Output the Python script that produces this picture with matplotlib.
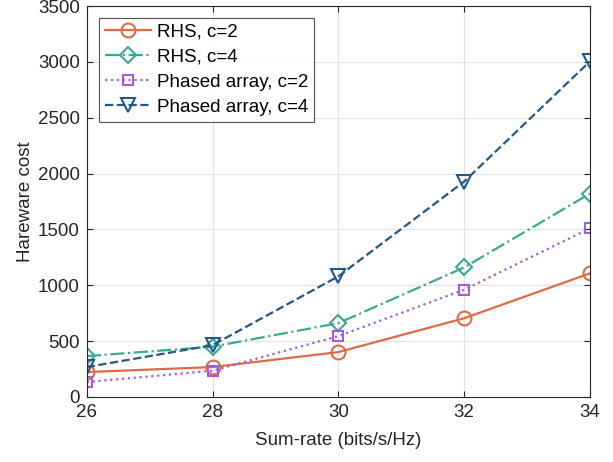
import matplotlib
matplotlib.use("Agg")
import matplotlib.pyplot as plt

plt.rcParams["font.family"] = ["Liberation Sans", "DejaVu Sans"]

rate = [26, 28, 30, 32, 34]
rhs_c2 = [223, 268, 402, 705, 1107]
rhs_c4 = [366, 450, 661, 1160, 1821]
pa_c2 = [134, 235, 545, 960, 1510]
pa_c4 = [268, 464, 1080, 1929, 3005]

series = [
    ("RHS, c=2", rhs_c2, "#DF6A46", "-", "o", 10),
    ("RHS, c=4", rhs_c4, "#3DAA8F", "-.", "D", 8.5),
    ("Phased array, c=2", pa_c2, "#A25DDC", ":", "s", 7.5),
    ("Phased array, c=4", pa_c4, "#235887", "--", "v", 10),
]

fig = plt.figure(figsize=(6.13, 4.62), dpi=100)
ax = fig.add_axes([0.1415, 0.1407, 0.821, 0.8463])

for label, vals, col, ls, mk, ms in series:
    ax.plot(rate, vals, linestyle=ls, color=col, marker=mk, markersize=ms,
            markerfacecolor="none", markeredgewidth=1.5, linewidth=1.6,
            label=label)

ax.set_xlim(26, 34)
ax.set_ylim(0, 3500)
ax.set_xticks(rate)
ax.set_yticks(range(0, 3501, 500))
ax.grid(True, color="#E3E3E3", linewidth=0.8)
ax.set_axisbelow(True)
ax.tick_params(direction="in", top=True, right=True, labelsize=13.5,
               colors="#262626", length=4, pad=5)
for s in ax.spines.values():
    s.set_color("#262626")
    s.set_linewidth(0.8)
ax.set_xlabel("Sum-rate (bits/s/Hz)", fontsize=13.5, color="#262626", labelpad=8)
ax.set_ylabel("Hareware cost", fontsize=13.5, color="#262626", labelpad=3)

leg = ax.legend(loc="upper left", fontsize=13.5, frameon=True, fancybox=False,
                edgecolor="#262626", handlelength=2.5, borderaxespad=0.65,
                labelspacing=0.42, handletextpad=0.3, borderpad=0.3)
leg.get_frame().set_linewidth(0.8)

fig.savefig("out.png", dpi=100)
